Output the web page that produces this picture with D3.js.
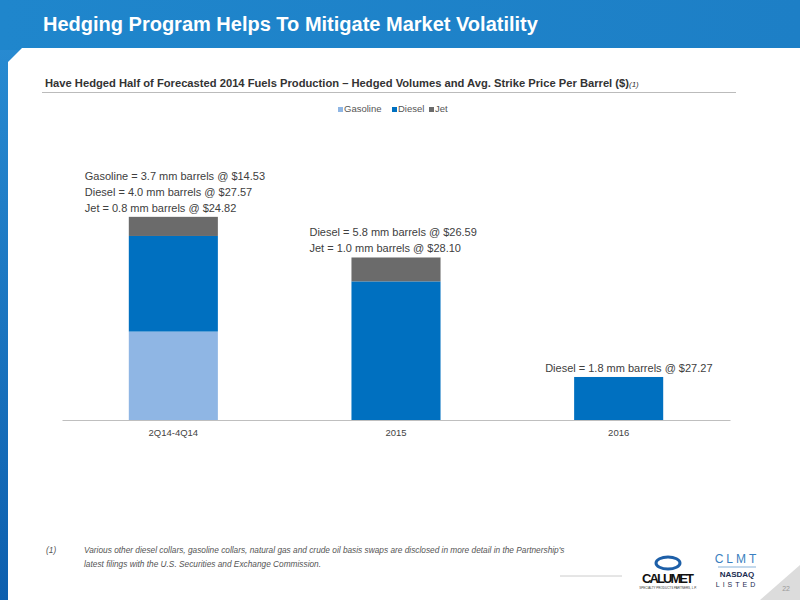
<!DOCTYPE html>
<html><head><meta charset="utf-8">
<script src="https://cdn.jsdelivr.net/npm/d3@7"></script>
<style>body{margin:0}svg{font-family:"Liberation Sans",Arial,sans-serif}</style>
</head><body><svg id="c" width="800" height="600"></svg>
<script>
const categories=["2Q14-4Q14","2015","2016"];
const seriesNames=["Gasoline","Diesel","Jet"];
const gasoline=[3.7,0,0];
const diesel=[4.0,5.8,1.8];
const jet=[0.8,1.0,0];
const colors=["#8fb6e4","#0070c0","#6b6b6b"];
const notes=[["Gasoline = 3.7 mm barrels @ $14.53","Diesel = 4.0 mm barrels @ $27.57","Jet = 0.8 mm barrels @ $24.82"],["Diesel = 5.8 mm barrels @ $26.59","Jet = 1.0 mm barrels @ $28.10"],["Diesel = 1.8 mm barrels @ $27.27"]];

const svg=d3.select("#c");
const defs=svg.append("defs");
const g1=defs.append("linearGradient").attr("id","hg").attr("x1",0).attr("x2",1);
g1.append("stop").attr("offset",0).attr("stop-color","#1f86cc");
g1.append("stop").attr("offset",1).attr("stop-color","#1d7fc6");
const g2=defs.append("linearGradient").attr("id","sg").attr("x1",0).attr("x2",0).attr("y1",0).attr("y2",1);
g2.append("stop").attr("offset",0).attr("stop-color","#2a8ed4");
g2.append("stop").attr("offset",1).attr("stop-color","#0d5fae");
svg.append("rect").attr("width",800).attr("height",600).attr("fill","url(#sg)");
svg.append("rect").attr("width",800).attr("height",50).attr("fill","url(#hg)");
svg.append("path").attr("d","M22,48 L800,48 L800,600 L8,600 L8,62 Z").attr("fill","#fff");
svg.append("path").attr("d","M800,565 L800,600 L760,600 Z").attr("fill","#dcdcdc");
svg.append("text").attr("x",43).attr("y",31).attr("fill","#fff").attr("font-size",20).attr("font-weight","bold").text("Hedging Program Helps To Mitigate Market Volatility");
const st=svg.append("text").attr("x",45).attr("y",87).attr("fill","#333").attr("font-size",11.2).attr("font-weight","bold");
st.append("tspan").text("Have Hedged Half of Forecasted 2014 Fuels Production – Hedged Volumes and Avg. Strike Price Per Barrel ($)");
st.append("tspan").attr("font-style","italic").attr("font-size",8).attr("font-weight","normal").text("(1)");
svg.append("line").attr("x1",42).attr("x2",736).attr("y1",92.5).attr("y2",92.5).attr("stroke","#bbb");

const lx=[338,392,429];
seriesNames.forEach((n,i)=>{
 svg.append("rect").attr("x",lx[i]).attr("y",107).attr("width",5).attr("height",5).attr("fill",colors[i]);
 svg.append("text").attr("x",lx[i]+6).attr("y",112).attr("font-size",9.5).attr("fill","#555").text(n);
});

const x=d3.scaleBand().domain(categories).range([62,730]).paddingInner(0.6).paddingOuter(0.3);
const y=d3.scaleLinear().domain([0,10]).range([420,181]);
const data=categories.map((c,i)=>({c,Gasoline:gasoline[i],Diesel:diesel[i],Jet:jet[i]}));
const stack=d3.stack().keys(seriesNames)(data);
stack.forEach((s,k)=>{
 svg.append("g").selectAll("rect").data(s).join("rect")
  .attr("x",d=>x(d.data.c)).attr("width",x.bandwidth())
  .attr("y",d=>y(d[1])).attr("height",d=>y(d[0])-y(d[1])).attr("fill",colors[k]);
});
const ax=svg.append("g").attr("transform","translate(0,420)").call(d3.axisBottom(x).tickSize(0).tickPadding(9));
ax.select(".domain").attr("stroke","#bfbfbf");
ax.selectAll("text").attr("font-size",9.5).attr("fill","#444").attr("font-family","Liberation Sans,Arial,sans-serif");
notes.forEach((lines,i)=>{
 const tot=gasoline[i]+diesel[i]+jet[i];
 const x0=x(categories[i])+(i==0?-44:i==1?-42:-29);
 lines.forEach((t,j)=>{
  svg.append("text").attr("x",x0).attr("y",y(tot)-5-(lines.length-1-j)*16).attr("font-size",11).attr("fill","#404040").text(t);
 });
});
const fn=svg.append("g").attr("font-size",8.3).attr("font-style","italic").attr("fill","#555");
fn.append("text").attr("x",46).attr("y",553).text("(1)");
fn.append("text").attr("x",84).attr("y",553).text("Various other diesel collars, gasoline collars, natural gas and crude oil basis swaps are disclosed in more detail in the Partnership's");
fn.append("text").attr("x",84).attr("y",567).text("latest filings with the U.S. Securities and Exchange Commission.");
svg.append("line").attr("x1",560).attr("x2",622).attr("y1",576).attr("y2",576).attr("stroke","#ccc");
svg.append("ellipse").attr("cx",668).attr("cy",563).attr("rx",12).attr("ry",6).attr("fill","none").attr("stroke","#1d5fa8").attr("stroke-width",3);
svg.append("text").attr("x",668).attr("y",583).attr("text-anchor","middle").attr("font-size",13).attr("font-weight","bold").attr("fill","#111").attr("textLength",52).text("CALUMET");
svg.append("text").attr("x",668).attr("y",589).attr("text-anchor","middle").attr("font-size",3).attr("fill","#333").text("SPECIALTY PRODUCTS PARTNERS, L.P.");
svg.append("text").attr("x",737).attr("y",563).attr("text-anchor","middle").attr("font-size",12).attr("fill","#3a7fc0").attr("letter-spacing",3).text("CLMT");
svg.append("line").attr("x1",718).attr("x2",756).attr("y1",567).attr("y2",567).attr("stroke","#3a7fc0").attr("stroke-width",0.6);
svg.append("text").attr("x",737).attr("y",577).attr("text-anchor","middle").attr("font-size",8).attr("font-weight","bold").attr("fill","#1a2b50").text("NASDAQ");
svg.append("text").attr("x",737).attr("y",587).attr("text-anchor","middle").attr("font-size",7).attr("fill","#1a2b50").attr("letter-spacing",3).text("LISTED");
svg.append("text").attr("x",790).attr("y",591).attr("text-anchor","end").attr("font-size",7).attr("fill","#999").text("22");
</script></body></html>
